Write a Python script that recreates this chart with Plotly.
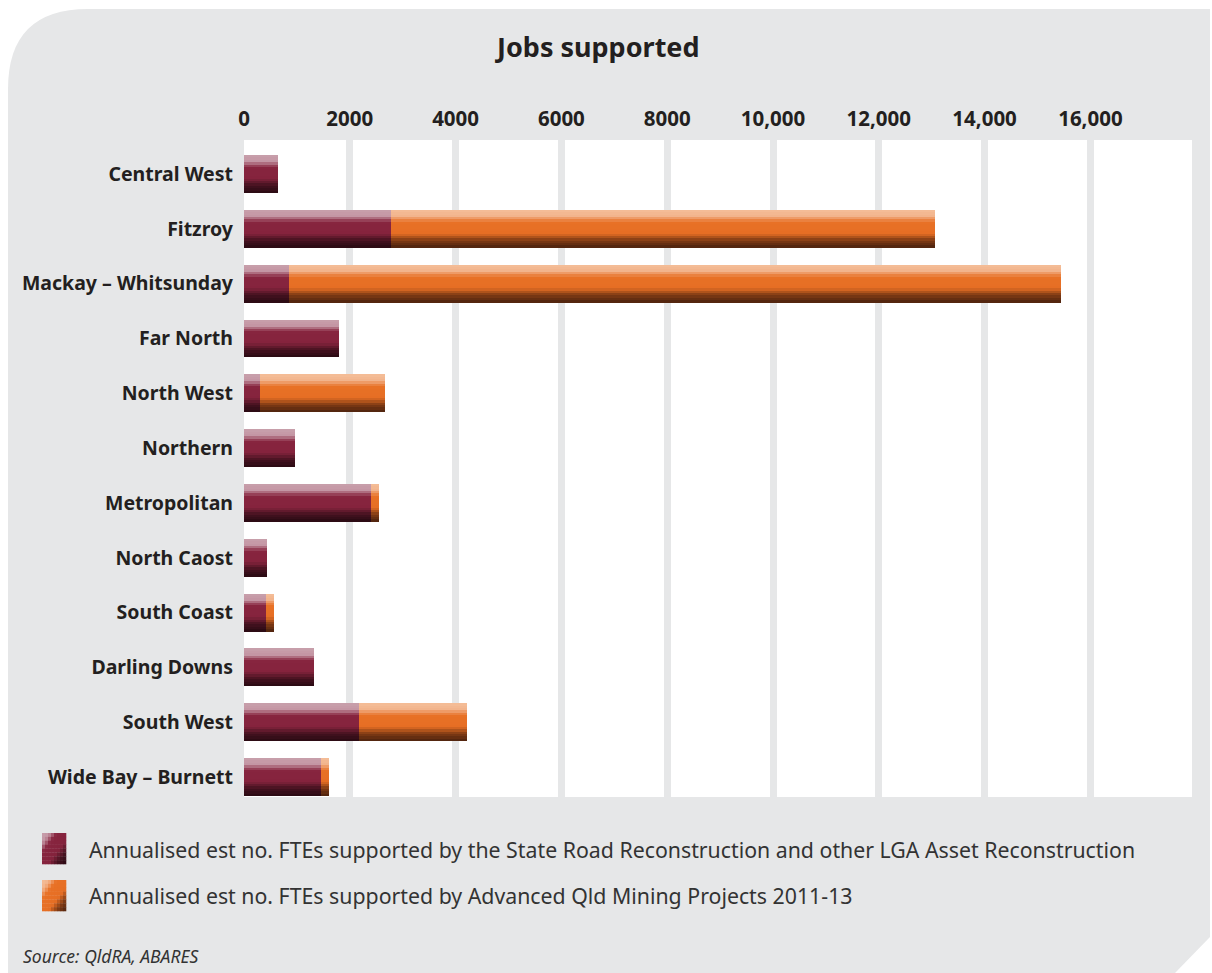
import plotly.graph_objects as go

# ---------------- data ----------------
regions = ["Central West", "Fitzroy", "Mackay – Whitsunday", "Far North", "North West",
           "Northern", "Metropolitan", "North Caost", "South Coast", "Darling Downs",
           "South West", "Wide Bay – Burnett"]
road_ftes = [650, 2780, 860, 1790, 310, 970, 2410, 440, 420, 1330, 2180, 1460]
mining_ftes = [0, 10290, 14590, 0, 2360, 0, 150, 0, 150, 0, 2040, 150]
tick_vals = [0, 2000, 4000, 6000, 8000, 10000, 12000, 14000, 16000]
tick_text = ["0", "2000", "4000", "6000", "8000", "10,000", "12,000", "14,000", "16,000"]
series_names = ["Annualised est no. FTEs supported by the State Road Reconstruction and other LGA Asset Reconstruction",
                "Annualised est no. FTEs supported by Advanced Qld Mining Projects 2011-13"]

# ---------------- style ----------------
W, H = 1212, 973
ML, MR, MT, MB = 244, 20, 140, 176
PW, PH = W - ML - MR, H - MT - MB
GREY = "#e6e7e8"
FONT = "Noto Sans"

maroon_stops = [(0.0, (200, 160, 172)), (0.16, (196, 150, 164)), (0.32, (135, 37, 63)),
                (0.62, (133, 35, 61)), (0.80, (70, 18, 32)), (1.0, (40, 10, 18))]
orange_stops = [(0.0, (244, 190, 152)), (0.16, (242, 180, 140)), (0.32, (232, 113, 38)),
                (0.62, (230, 110, 36)), (0.80, (130, 60, 20)), (1.0, (76, 34, 14))]


def interp(stops, t):
    for (t0, c0), (t1, c1) in zip(stops[:-1], stops[1:]):
        if t0 <= t <= t1:
            f = (t - t0) / (t1 - t0) if t1 > t0 else 0
            return "rgb(%d,%d,%d)" % tuple(round(a + (b - a) * f) for a, b in zip(c0, c1))
    return "rgb(%d,%d,%d)" % stops[-1][1]


BAR_W = 0.69
NB = 16

fig = go.Figure()
mining_base = road_ftes
for vals, base, stops in [(road_ftes, [0] * len(road_ftes), maroon_stops),
                          (mining_ftes, mining_base, orange_stops)]:
    for i in range(NB):
        t = (i + 0.5) / NB
        fig.add_trace(go.Bar(
            y=regions, x=vals, base=base, orientation="h",
            width=BAR_W / NB + 0.002, offset=-BAR_W / 2 + i * BAR_W / NB,
            marker=dict(color=interp(stops, t), line=dict(width=0)),
            showlegend=False, hoverinfo="skip"))

# background panel (rounded top-left, clipped bottom-right)
def px(x):
    return (x - ML) / PW


def py(y):
    return 1 - (y - MT) / PH


r = 80
x0, y0, x1, y1 = 8, 9, 1210, 973
path = (f"M {px(x0)},{py(y1)} L {px(x0)},{py(y0 + r)} "
        f"Q {px(x0)},{py(y0)} {px(x0 + r)},{py(y0)} "
        f"L {px(x1)},{py(y0)} L {px(x1)},{py(937)} L {px(1175)},{py(y1)} Z")
shapes = [dict(type="path", path=path, xref="paper", yref="paper",
               fillcolor=GREY, line=dict(width=0), layer="below"),
          dict(type="rect", xref="paper", yref="paper", x0=0, x1=1, y0=0, y1=1,
               fillcolor="white", line=dict(width=0), layer="below")]

# legend swatches (diagonal gradient, light top-left to dark bottom-right)
sw_x, sw_w, sw_h, n = 42, 24, 31, 8
for stops, ytop in [(maroon_stops, 833), (orange_stops, 880)]:
    for i in range(n):
        for j in range(n):
            t = (i + j + 1) / (2 * n)
            shapes.append(dict(type="rect", xref="paper", yref="paper",
                               x0=px(sw_x + sw_w * j / n), x1=px(sw_x + sw_w * (j + 1) / n + 0.3),
                               y0=py(ytop + sw_h * i / n), y1=py(ytop + sw_h * (i + 1) / n + 0.3),
                               fillcolor=interp(stops, t), line=dict(width=0)))

annotations = [
    dict(text="<b>Jobs supported</b>", x=px(597), y=py(47), xref="paper", yref="paper",
         showarrow=False, font=dict(family=FONT, size=27, color="#231f20"),
         xanchor="center", yanchor="middle"),
    dict(text=series_names[0], x=px(87), y=py(849), xref="paper", yref="paper",
         showarrow=False, font=dict(family=FONT, size=21.3, color="#333333"),
         xanchor="left", yanchor="middle"),
    dict(text=series_names[1], x=px(87), y=py(895), xref="paper", yref="paper",
         showarrow=False, font=dict(family=FONT, size=21.3, color="#333333"),
         xanchor="left", yanchor="middle"),
    dict(text="<i>Source: QldRA, ABARES</i>", x=px(21), y=py(956), xref="paper", yref="paper",
         showarrow=False, font=dict(family=FONT, size=17.5, color="#333333"),
         xanchor="left", yanchor="middle"),
]

# category positions: row 0 centred at y=174 px, row spacing 54.8 px
row_px = 54.8
y_top = -(174 - MT) / row_px
y_bot = 11 + (MT + PH - 777) / row_px

fig.update_layout(
    width=W, height=H, margin=dict(l=ML, r=MR, t=MT, b=MB, pad=0),
    paper_bgcolor="white", plot_bgcolor="white",
    barmode="overlay", bargap=0, shapes=shapes, annotations=annotations,
    xaxis=dict(range=[0, PW / 0.0529], side="top", tickvals=tick_vals, ticktext=tick_text,
               showgrid=True, gridcolor=GREY, gridwidth=7, zeroline=False,
               showline=False, ticks="", ticklabelstandoff=9,
               tickfont=dict(family=FONT, size=20.5, color="#231f20", weight="bold")),
    yaxis=dict(range=[y_bot, y_top], showgrid=False, zeroline=False, showline=False,
               ticks="", ticklabelstandoff=10,
               tickfont=dict(family=FONT, size=19.5, color="#231f20", weight="bold")),
)

fig.write_html("out.html")
